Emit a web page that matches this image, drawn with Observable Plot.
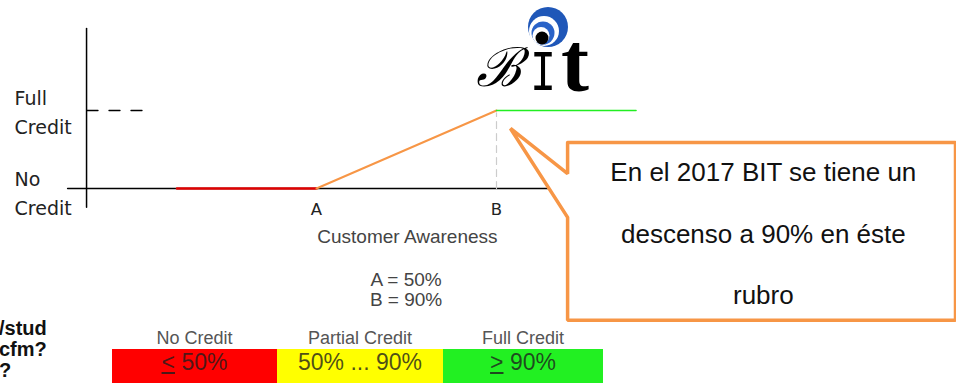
<!DOCTYPE html>
<html>
<head>
<meta charset="utf-8">
<script src="https://cdn.jsdelivr.net/npm/d3@7"></script>
<script src="https://cdn.jsdelivr.net/npm/@observablehq/plot@0.6"></script>
<style>
  body { margin:0; background:#fff; }
  #wrap { position:relative; width:956px; height:383px; overflow:hidden; background:#fff; }
  #wrap > svg { position:absolute; left:0; top:0; }
  .ov { position:absolute; }
</style>
</head>
<body>
<div id="wrap"></div>
<script>
// ---- data ----
const tickNames = ["A", "B"];
const tickValues = [50, 90];           // Customer Awareness (%)
const creditLabels = ["Full\nCredit", "No\nCredit"];
const creditLabelY = [1.006, -0.03];   // credit level (1 = full, 0 = none)
const noCreditSeg = [[19, 0], [50, 0]];
const partialSeg = [[50, 0], [90, 1]];
const fullSeg = [[90, 1], [121, 1]];
const xAxisExtent = [-5.3, 103];
const yAxisExtent = [-0.24, 2.05];
const yAxisAt = -1.1;
const dashExtent = [-1, 12.2];
const calloutPts = [[105.8,0.59],[192,0.59],[192,-1.69],[105.8,-1.69],[105.8,-0.37],[93.1,0.77],[105.8,0.19],[105.8,0.59]];
const calloutLines = ["En el 2017 BIT se tiene un", "descenso a 90% en éste", "rubro"];
const calloutLineY = [0.205, -0.59, -1.372];
const legendHeads = ["No Credit", "Partial Credit", "Full Credit"];
const legendCells = ["<u>&lt;</u> 50%", "50% ... 90%", "<u>&gt;</u> 90%"];
const legendColors = ["#ff0000", "#ffff00", "#22f022"];
const leftLines = ["/stud", "cfm?", "?"];

const orange = "#f79646";
const plot = Plot.plot({
  width: 956, height: 383,
  marginLeft: 0, marginRight: 0, marginTop: 0, marginBottom: 0,
  x: {domain: [0, 100], range: [91, 541], axis: null},
  y: {domain: [0, 1], range: [188, 110], axis: null},
  style: {background: "transparent", overflow: "visible"},
  marks: [
    Plot.line(xAxisExtent.map(x => [x, 0]), {stroke: "#000", strokeWidth: 1.5}),
    Plot.line(yAxisExtent.map(y => [yAxisAt, y]), {stroke: "#000", strokeWidth: 1.5}),
    Plot.line(dashExtent.map(x => [x, 1]), {stroke: "#000", strokeWidth: 1.3, strokeDasharray: "11,11"}),
    Plot.line([[90, 0], [90, 0.97]], {stroke: "#ccc", strokeWidth: 1.2, strokeDasharray: "7,5"}),
    Plot.line(noCreditSeg, {stroke: "#e00000", strokeWidth: 2.5}),
    Plot.line(partialSeg, {stroke: orange, strokeWidth: 2}),
    Plot.line(fullSeg, {stroke: "#22ee22", strokeWidth: 1.6}),
    Plot.text(tickNames, {x: (d, i) => tickValues[i], y: -0.27, text: d => d, fontSize: 16.5, fontFamily: "DejaVu Sans", fill: "#222"}),
    Plot.text(creditLabels, {x: -17.1, y: (d, i) => creditLabelY[i], text: d => d, textAnchor: "start", fontSize: 19, lineHeight: 1.53, fontFamily: "DejaVu Sans", fill: "#222"}),
    Plot.text(["Customer Awareness"], {x: 70.2, y: -0.615, text: d => d, fontSize: 19, fontFamily: "Liberation Sans", fill: "#444"}),
    Plot.text(["A = 50%\nB = 90%"], {x: 69.9, y: -1.295, text: d => d, fontSize: 19, lineHeight: 1.05, fontFamily: "Liberation Sans", fill: "#444"}),
    Plot.line(calloutPts, {fill: "#fff", stroke: orange, strokeWidth: 3.5, strokeLinejoin: "miter"}),
    Plot.text(calloutLines, {x: 149.3, y: (d, i) => calloutLineY[i], text: d => d, fontSize: 26, fontFamily: "Liberation Sans", fill: "#111"})
  ]
});
const wrap = document.getElementById("wrap");
wrap.appendChild(plot);

// logo (decorative)
const ns = "http://www.w3.org/2000/svg";
const logo = document.createElementNS(ns, "svg");
logo.setAttribute("width", 956); logo.setAttribute("height", 110);
logo.style.cssText = "position:absolute;left:0;top:0";
logo.innerHTML = `
  <circle cx="548" cy="27" r="20" fill="#1f57b8"/>
  <circle cx="544" cy="31" r="15" fill="#fff"/>
  <circle cx="543" cy="33" r="11.5" fill="#2a63c8"/>
  <circle cx="541" cy="35.5" r="8.5" fill="#fff"/>
  <circle cx="542" cy="38" r="6.5" fill="#000"/>
  <text x="476" y="86" font-family="DejaVu Serif" font-style="italic" font-size="54">&#x212C;</text>
  <text transform="translate(530,90) scale(0.75,1)" font-family="Liberation Mono" font-size="58">I</text>
  <text x="561" y="91" font-family="Liberation Serif" font-weight="bold" font-size="84">t</text>`;
wrap.appendChild(logo);

// left cut text
const left = document.createElement("div");
left.className = "ov";
left.style.cssText = "left:-1px;top:318px;font:bold 20px 'Liberation Sans';line-height:21px;color:#111;white-space:nowrap";
left.innerHTML = leftLines.join("<br>");
wrap.appendChild(left);

// legend table
const leg = document.createElement("div");
leg.className = "ov";
leg.style.cssText = "left:112px;top:327px;width:491px;display:flex;";
const widths = [165, 166, 160];
legendHeads.forEach((h, i) => {
  const col = document.createElement("div");
  col.style.cssText = `width:${widths[i]}px;text-align:center;`;
  col.innerHTML = `<div style="font:18px 'Liberation Sans';color:#555;height:22px;line-height:22px">${h}</div>
   <div style="background:${legendColors[i]};height:34px;line-height:28px;font:23px 'Liberation Sans';color:rgba(30,30,30,0.8)">${legendCells[i]}</div>`;
  leg.appendChild(col);
});
wrap.appendChild(leg);
</script>
</body>
</html>
